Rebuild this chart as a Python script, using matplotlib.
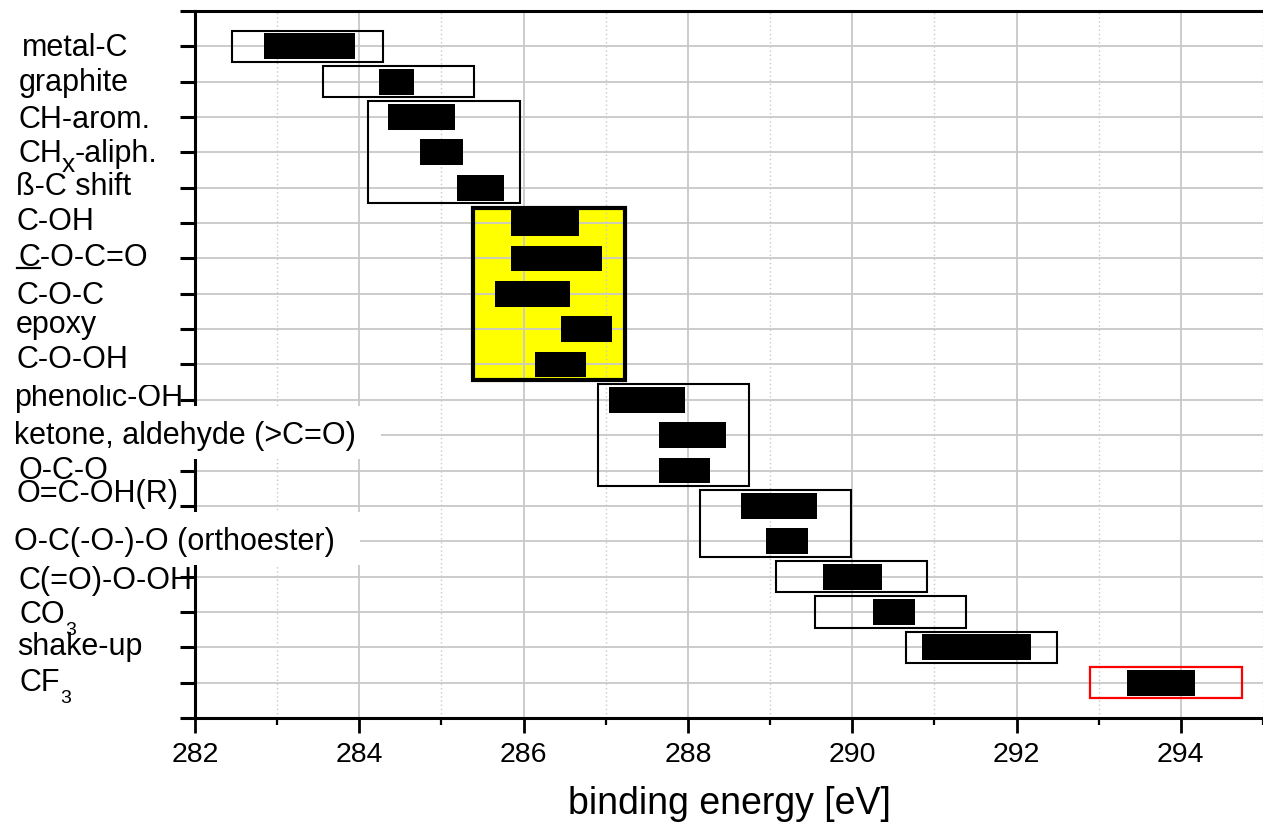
import matplotlib
matplotlib.use("Agg")
import matplotlib.pyplot as plt
from matplotlib.patches import Rectangle
from matplotlib.lines import Line2D
from matplotlib.ticker import MultipleLocator
from matplotlib.transforms import Bbox

plt.rcParams["font.family"] = ["Liberation Sans", "DejaVu Sans"]

# C1s binding energy ranges per chemical environment
# "_" marks a subscript character, "~" marks an underlined first character
labels = ["metal-C", "graphite", "CH-arom.", "CH_x-aliph.", "ß-C shift", "C-OH",
          "~C-O-C=O", "C-O-C", "epoxy", "C-O-OH", "phenolic-OH",
          "ketone, aldehyde (>C=O)", "O-C-O", "O=C-OH(R)",
          "O-C(-O-)-O (orthoester)", "C(=O)-O-OH", "CO_3", "shake-up", "CF_3"]

peak_lo = [282.84, 284.24, 284.35, 284.74, 285.19, 285.85, 285.85, 285.65, 286.45, 286.14,
           287.04, 287.65, 287.65, 288.65, 288.95, 289.65, 290.25, 290.85, 293.35]
peak_hi = [283.95, 284.66, 285.16, 285.26, 285.76, 286.67, 286.96, 286.56, 287.07, 286.76,
           287.96, 288.46, 288.27, 289.57, 289.46, 290.36, 290.76, 292.17, 294.17]

# grouping ranges (first row, last row, energy window)
group_first = [0, 1, 2, 5, 10, 13, 15, 16, 17, 18]
group_last = [0, 1, 4, 9, 12, 14, 15, 16, 17, 18]
group_lo = [282.45, 283.56, 284.11, 285.38, 286.90, 288.15, 289.07, 289.55, 290.65, 292.89]
group_hi = [284.29, 285.39, 285.95, 287.24, 288.74, 289.99, 290.91, 291.39, 292.49, 294.74]

xticks = [282, 284, 286, 288, 290, 292, 294]

# label layout (pixels): left start and baseline drop below row centre
label_x = [22, 19, 18, 18, 16, 16, 18, 16, 16, 16, 14, 14, 18, 16, 14, 18, 20, 17, 20]
label_dy = [9.3, 9.7, 11.3, 9.4, 7.7, 7.3, 7.3, 10, 4, 3.6, 6, 9, 8, -3.7, 8.5, 12, 11, 8, 8]
boxed = [11, 14]

W, H = 1263, 830
fig = plt.figure(figsize=(W / 100, H / 100), dpi=100)
ax = fig.add_axes([195 / W, 1 - 718 / H, (W - 195) / W, (718 - 11) / H])
ax.set_xlim(282, 295)
ax.set_ylim(len(labels), -1)

rows = list(range(len(labels)))
ax.set_yticks(rows)
ax.set_yticklabels([])
ax.set_xticks(xticks)
ax.xaxis.set_minor_locator(MultipleLocator(1))
ax.tick_params(axis="y", direction="out", length=11, width=2.2)
ax.tick_params(axis="x", which="major", direction="out", length=11, width=2,
               labelsize=20.5, pad=6)
ax.tick_params(axis="x", which="minor", direction="out", length=5, width=1.6)
ax.set_xlabel("binding energy [eV]", fontsize=27, labelpad=13)

for side in ["left", "bottom", "top"]:
    ax.spines[side].set_linewidth(2.2)
ax.spines["right"].set_visible(False)

ax.set_axisbelow("line")
ax.grid(axis="y", which="major", color="#c8c8c8", lw=1.3)
ax.grid(axis="x", which="major", color="#c8c8c8", lw=1.3)
ax.grid(axis="x", which="minor", color="#c8c8c8", lw=1.0, ls=(0, (1, 2)))

# horizontal axis lines run a bit past the left spine
for yy in (0, 1):
    ax.plot([-15 / (W - 195), 0], [yy, yy], transform=ax.transAxes, color="black",
            lw=2.2, clip_on=False, solid_capstyle="butt")

pad = 0.44
for k in range(len(group_first)):
    y0 = group_first[k] - pad
    h = group_last[k] - group_first[k] + 2 * pad
    w = group_hi[k] - group_lo[k]
    if k == 3:
        ax.add_patch(Rectangle((group_lo[k], y0), w, h, facecolor="#ffff00",
                               edgecolor="none", zorder=1))
        ax.add_patch(Rectangle((group_lo[k], y0), w, h, fill=False,
                               edgecolor="black", lw=3, zorder=2))
    elif k == 9:
        ax.add_patch(Rectangle((group_lo[k], y0), w, h, fill=False,
                               edgecolor="#ff0000", lw=1.6, zorder=2))
    else:
        ax.add_patch(Rectangle((group_lo[k], y0), w, h, fill=False,
                               edgecolor="black", lw=1.5, zorder=2))

widths = [b - a for a, b in zip(peak_lo, peak_hi)]
ax.barh(rows, widths, left=peak_lo, height=0.73, color="black", zorder=3)

# row labels on the left, drawn piece by piece for subscripts
renderer = fig.canvas.get_renderer()
for i, lab in enumerate(labels):
    underline = lab.startswith("~")
    lab = lab.lstrip("~")
    base = ax.transData.transform((282, i))[1] - label_dy[i]
    pieces = [(p, False) for p in lab.split("_")[:1]]
    for p in lab.split("_")[1:]:
        pieces.append((p[0], True))
        if p[1:]:
            pieces.append((p[1:], False))
    x = label_x[i]
    texts = []
    for s, sub in pieces:
        if sub:
            size = 14 if s.isdigit() else 19
            drop = 12 if s.isdigit() else 10
        else:
            size, drop = 22, 0
        t = fig.text(x / W, (base - drop) / H, s, fontsize=size, ha="left",
                     va="baseline", zorder=5)
        if i == 10:
            t.set_clip_box(Bbox.from_extents(0, 0, W, H - 385))
        x += t.get_window_extent(renderer).width
        texts.append(t)
    if underline:
        tmp = fig.text(label_x[i] / W, base / H, lab[0], fontsize=22)
        wc = tmp.get_window_extent(renderer).width
        tmp.remove()
        fig.add_artist(Line2D([(label_x[i] - 1) / W, (label_x[i] + wc) / W],
                              [(base - 2.5) / H, (base - 2.5) / H],
                              color="black", lw=1.6, zorder=5))
    if i in boxed:
        right = texts[-1].get_window_extent(renderer).x1 + 25
        fig.add_artist(Rectangle((0, (base - 15) / H), right / W, 53 / H,
                                 transform=fig.transFigure, facecolor="white",
                                 edgecolor="none", zorder=4))

fig.savefig("out.png", dpi=100)
